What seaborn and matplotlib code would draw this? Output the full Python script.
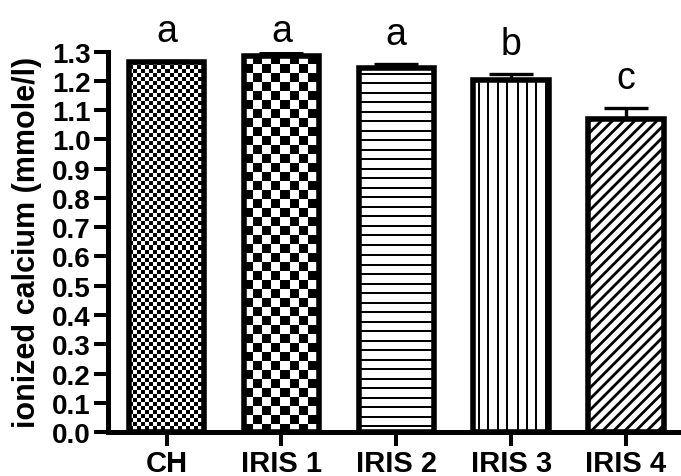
import numpy as np
import matplotlib
matplotlib.use('Agg')
import matplotlib.pyplot as plt
import seaborn as sns
import pandas as pd

# ---- data ----
categories = ['CH', 'IRIS 1', 'IRIS 2', 'IRIS 3', 'IRIS 4']
means = [1.266, 1.287, 1.245, 1.202, 1.071]
sems = [0.003, 0.008, 0.014, 0.022, 0.037]
letters = ['a', 'a', 'a', 'b', 'c']
yticks = [0.0, 0.1, 0.2, 0.3, 0.4, 0.5, 0.6, 0.7, 0.8, 0.9, 1.0, 1.1, 1.2, 1.3]
ylabel = 'ionized calcium (mmole/l)'

# ---- style ----
patterns = [('checker', 4), ('checker', 9), ('hlines', 9.5), ('vlines', 9.4), ('hatch', '///')]

sns.set_theme(style='ticks')
plt.rcParams['font.family'] = ['Liberation Sans', 'DejaVu Sans']
plt.rcParams['hatch.linewidth'] = 2.0
plt.rcParams['hatch.color'] = 'black'

fig = plt.figure(figsize=(6.81, 4.77), dpi=100)
ax = fig.add_axes([0.1586, 0.0922, 0.8414, 0.7973])

df = pd.DataFrame({'group': categories, 'value': means})
sns.barplot(data=df, x='group', y='value', color='white', saturation=1,
            edgecolor='black', linewidth=4, width=0.656, errorbar=None, ax=ax)

ax.set_xlim(-0.511, 4.48)
ax.set_ylim(0, 1.3)
fig.canvas.draw()

for patch, (kind, par) in zip(ax.patches, patterns):
    patch.set_zorder(2)
    if kind == 'hatch':
        patch.set_hatch(par)
        patch.set_facecolor('white')
        continue
    patch.set_facecolor('none')
    x0, y0 = patch.get_x(), patch.get_y()
    w, h = patch.get_width(), patch.get_height()
    (px0, py0), (px1, py1) = ax.transData.transform([[x0, y0], [x0 + w, y0 + h]])
    W = int(round(px1 - px0))
    H = int(round(py1 - py0))
    i = np.arange(H)[:, None]
    j = np.arange(W)[None, :]
    if kind == 'checker':
        arr = ((i // par + j // par) % 2).astype(float)
    elif kind == 'hlines':
        arr = (((i + 4) % par) < 2).astype(float) * np.ones((1, W))
    else:
        arr = (((j + 5) % par) < 2).astype(float) * np.ones((H, 1))
    im = ax.imshow(arr, cmap='gray_r', vmin=0, vmax=1,
                   extent=(x0, x0 + w, y0, y0 + h), origin='upper',
                   interpolation='nearest', aspect='auto', zorder=1.5)
    im.set_clip_path(patch)

xs = np.arange(len(categories))
_, caplines, _ = ax.errorbar(xs, means, yerr=[np.zeros(len(means)), sems], fmt='none',
                             ecolor='black', elinewidth=2.4, capsize=15.5,
                             capthick=2.4, zorder=3)
# show only the upper caps
for cl in caplines:
    if np.allclose(cl.get_ydata(), means):
        cl.set_visible(False)

label_row = 1.336
for x, v, e, l in zip(xs, means, sems, letters):
    ax.text(x, min(v + e + 0.068, label_row), l, ha='center', va='baseline',
            fontsize=27, fontweight='normal', color='black', clip_on=False)

ax.set_xlim(-0.511, 4.48)
ax.set_ylim(0, 1.3)
ax.set_yticks(yticks)
ax.set_yticklabels([f'{t:.1f}' for t in yticks])

for side in ['top', 'right']:
    ax.spines[side].set_visible(False)
for side in ['left', 'bottom']:
    ax.spines[side].set_linewidth(3.6)
    ax.spines[side].set_color('black')

ax.tick_params(axis='both', width=2.9, length=10, color='black',
               labelcolor='black', direction='out')
ax.tick_params(axis='y', pad=2.4, labelsize=20)
ax.tick_params(axis='x', pad=2.5, labelsize=21)
for lbl in ax.get_xticklabels() + ax.get_yticklabels():
    lbl.set_fontweight('bold')

ax.set_xlabel('')
ax.set_ylabel(ylabel, fontsize=22, fontweight='bold', color='black', va='center')
ax.yaxis.set_label_coords(-0.141, 0.5)

fig.savefig('out.png', dpi=100)
